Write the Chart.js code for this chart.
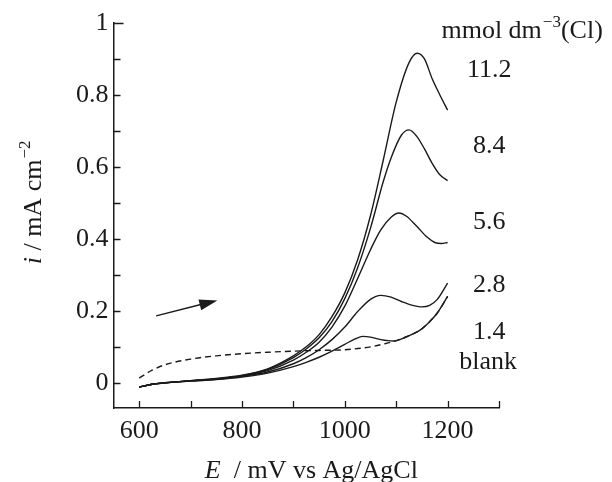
<!DOCTYPE html>
<html>
<head>
<meta charset="utf-8">
<script src="https://cdn.jsdelivr.net/npm/chart.js@4.4.1/dist/chart.umd.min.js"></script>
<style>
  html, body { margin: 0; padding: 0; background: #fff; }
  canvas { display: block; }
</style>
</head>
<body>
<canvas id="cvChart" width="612" height="482"></canvas>
<script>
// Tick values
const xTicks = [600, 700, 800, 900, 1000, 1100, 1200, 1300];
const yTicks = [0, 0.1, 0.2, 0.3, 0.4, 0.5, 0.6, 0.7, 0.8, 0.9, 1];

// Series names (Cl concentration, mmol dm-3)
const seriesNames = ['11.2', '8.4', '5.6', '2.8', '1.4', 'blank'];

// Potential (mV) and current (mA cm-2)
const e112 = [600, 625, 650, 700, 750, 800, 850, 900, 925, 950, 975, 1000, 1025, 1050, 1075, 1100, 1125, 1141, 1155, 1170, 1185, 1200];
const i112 = [-0.012, -0.004, 0.0, 0.006, 0.012, 0.021, 0.039, 0.075, 0.1, 0.134, 0.184, 0.25, 0.342, 0.465, 0.62, 0.78, 0.89, 0.916, 0.9, 0.845, 0.8, 0.758];

const e84 = [600, 625, 650, 700, 750, 800, 850, 900, 925, 950, 975, 1000, 1025, 1050, 1075, 1090, 1110, 1125, 1140, 1155, 1170, 1185, 1200];
const i84 = [-0.012, -0.004, 0.0, 0.006, 0.011, 0.02, 0.037, 0.07, 0.094, 0.125, 0.17, 0.234, 0.32, 0.43, 0.56, 0.625, 0.688, 0.703, 0.685, 0.65, 0.61, 0.578, 0.562];

const e56 = [600, 625, 650, 700, 750, 800, 850, 900, 925, 950, 975, 1000, 1025, 1050, 1070, 1090, 1105, 1120, 1140, 1160, 1175, 1188, 1200];
const i56 = [-0.012, -0.004, 0.0, 0.006, 0.011, 0.019, 0.034, 0.063, 0.085, 0.113, 0.155, 0.213, 0.29, 0.37, 0.425, 0.46, 0.472, 0.463, 0.435, 0.405, 0.39, 0.387, 0.39];

const e28 = [600, 625, 650, 700, 750, 800, 850, 900, 925, 950, 975, 1000, 1025, 1050, 1070, 1090, 1110, 1130, 1150, 1165, 1180, 1200];
const i28 = [-0.012, -0.004, 0.0, 0.005, 0.01, 0.018, 0.03, 0.053, 0.07, 0.092, 0.12, 0.155, 0.198, 0.232, 0.243, 0.238, 0.226, 0.216, 0.211, 0.215, 0.232, 0.277];

const e14 = [600, 625, 650, 700, 750, 800, 850, 900, 925, 950, 975, 1000, 1020, 1035, 1050, 1070, 1095, 1120, 1147, 1165, 1180, 1200];
const i14 = [-0.012, -0.004, 0.0, 0.005, 0.009, 0.016, 0.027, 0.045, 0.057, 0.071, 0.088, 0.107, 0.122, 0.129, 0.127, 0.12, 0.116, 0.128, 0.147, 0.17, 0.194, 0.24];

const eBlank = [600, 625, 650, 700, 750, 800, 850, 900, 950, 1000, 1050, 1076, 1095, 1120, 1147, 1165, 1180, 1200];
const iBlank = [0.013, 0.035, 0.05, 0.066, 0.075, 0.081, 0.085, 0.088, 0.09, 0.092, 0.1, 0.108, 0.115, 0.128, 0.147, 0.17, 0.194, 0.24];

const ink = '#1a1a1a';
const serif = '"Liberation Serif", "Times New Roman", serif';

function toPoints(xs, ys) {
    return xs.map((x, k) => ({ x: x, y: ys[k] }));
}

function curve(label, xs, ys, dashed) {
    return {
        label: label,
        data: toPoints(xs, ys),
        borderColor: ink,
        borderWidth: 1.4,
        borderDash: dashed ? [6, 4] : [],
        pointRadius: 0,
        fill: false,
        cubicInterpolationMode: 'monotone'
    };
}

// Draw the inward ticks, axis titles, curve labels and the sweep arrow
const decorations = {
    id: 'decorations',
    afterDraw(chart) {
        const ctx = chart.ctx;
        const sx = chart.scales.x;
        const sy = chart.scales.y;
        const area = chart.chartArea;

        ctx.save();
        ctx.strokeStyle = ink;
        ctx.fillStyle = ink;
        ctx.lineWidth = 1.3;

        // inward ticks
        ctx.beginPath();
        xTicks.forEach(v => {
            const px = Math.round(sx.getPixelForValue(v)) + 0.5;
            ctx.moveTo(px, area.bottom);
            ctx.lineTo(px, area.bottom - 7);
        });
        yTicks.forEach(v => {
            const py = Math.round(sy.getPixelForValue(v)) + 0.5;
            ctx.moveTo(area.left, py);
            ctx.lineTo(area.left + (v === 1 ? 10 : 7), py);
        });
        ctx.stroke();

        // curve labels
        ctx.font = '26px ' + serif;
        ctx.textAlign = 'center';
        ctx.textBaseline = 'middle';
        const labelAt = [[1281, 0.869], [1281, 0.658], [1281, 0.447], [1281, 0.272], [1281, 0.142], [1279, 0.058]];
        seriesNames.forEach((name, k) => {
            ctx.fillText(name, sx.getPixelForValue(labelAt[k][0]), sy.getPixelForValue(labelAt[k][1]));
        });

        // unit header: mmol dm^-3 (Cl)
        ctx.textAlign = 'left';
        ctx.textBaseline = 'alphabetic';
        let hx = sx.getPixelForValue(1188);
        const hy = sy.getPixelForValue(0.958);
        ctx.font = '26px ' + serif;
        ctx.fillText('mmol dm', hx, hy);
        hx += ctx.measureText('mmol dm').width + 1;
        ctx.font = '17px ' + serif;
        ctx.fillText('\u22123', hx, hy - 11);
        hx += ctx.measureText('\u22123').width;
        ctx.font = '26px ' + serif;
        ctx.fillText('(Cl)', hx, hy);

        // x axis title
        const xa = 'E';
        const xb = '  / mV vs Ag/AgCl';
        ctx.font = 'italic 26px ' + serif;
        const wa = ctx.measureText(xa).width;
        ctx.font = '26px ' + serif;
        const wb = ctx.measureText(xb).width;
        let tx = sx.getPixelForValue(935) - (wa + wb) / 2;
        const ty = area.bottom + 70;
        ctx.font = 'italic 26px ' + serif;
        ctx.fillText(xa, tx, ty);
        ctx.font = '26px ' + serif;
        ctx.fillText(xb, tx + wa, ty);

        // y axis title, rotated
        ctx.save();
        ctx.translate(area.left - 73, sy.getPixelForValue(0.5));
        ctx.rotate(-Math.PI / 2);
        const ya = 'i';
        const yb = ' / mA cm';
        const yc = '\u22122';
        ctx.font = 'italic 26px ' + serif;
        const w1 = ctx.measureText(ya).width;
        ctx.font = '26px ' + serif;
        const w2 = ctx.measureText(yb).width;
        ctx.font = '17px ' + serif;
        const w3 = ctx.measureText(yc).width;
        let rx = -(w1 + w2 + w3) / 2;
        ctx.font = 'italic 26px ' + serif;
        ctx.fillText(ya, rx, 0);
        rx += w1;
        ctx.font = '26px ' + serif;
        ctx.fillText(yb, rx, 0);
        rx += w2 + 1;
        ctx.font = '17px ' + serif;
        ctx.fillText(yc, rx, -11);
        ctx.restore();

        // sweep direction arrow
        const ax0 = sx.getPixelForValue(633), ay0 = sy.getPixelForValue(0.186);
        const ax1 = sx.getPixelForValue(752), ay1 = sy.getPixelForValue(0.229);
        const ang = Math.atan2(ay1 - ay0, ax1 - ax0);
        const headLen = 18, headHalf = 5.5;
        const bx = ax1 - headLen * Math.cos(ang), by = ay1 - headLen * Math.sin(ang);
        ctx.lineWidth = 1.5;
        ctx.beginPath();
        ctx.moveTo(ax0, ay0);
        ctx.lineTo(bx + 2 * Math.cos(ang), by + 2 * Math.sin(ang));
        ctx.stroke();
        ctx.beginPath();
        ctx.moveTo(ax1, ay1);
        ctx.lineTo(bx + headHalf * Math.sin(ang), by - headHalf * Math.cos(ang));
        ctx.lineTo(bx - headHalf * Math.sin(ang), by + headHalf * Math.cos(ang));
        ctx.closePath();
        ctx.fill();

        ctx.restore();
    }
};

document.addEventListener('DOMContentLoaded', function () {
    const chartCtx = document.getElementById('cvChart').getContext('2d');

    new Chart(chartCtx, {
        type: 'line',
        data: {
            datasets: [
                curve(seriesNames[0], e112, i112, false),
                curve(seriesNames[1], e84, i84, false),
                curve(seriesNames[2], e56, i56, false),
                curve(seriesNames[3], e28, i28, false),
                curve(seriesNames[4], e14, i14, false),
                curve(seriesNames[5], eBlank, iBlank, true)
            ]
        },
        options: {
            responsive: false,
            animation: false,
            layout: { padding: { top: 23, right: 113, left: 0, bottom: 0 } },
            plugins: {
                legend: { display: false },
                tooltip: { enabled: false }
            },
            scales: {
                x: {
                    type: 'linear',
                    min: 550,
                    max: 1300,
                    afterBuildTicks: scale => { scale.ticks = xTicks.map(v => ({ value: v })); },
                    afterFit: scale => { scale.height = 74; },
                    grid: { drawOnChartArea: false, drawTicks: false },
                    border: { color: ink, width: 1.5 },
                    ticks: {
                        autoSkip: false,
                        maxRotation: 0,
                        padding: 8,
                        color: ink,
                        font: { family: serif, size: 26 },
                        callback: v => (v % 200 === 0 ? String(v) : '')
                    }
                },
                y: {
                    type: 'linear',
                    min: -0.07,
                    max: 1,
                    afterBuildTicks: scale => { scale.ticks = yTicks.map(v => ({ value: v })); },
                    afterFit: scale => { scale.width = 113.5; },
                    grid: { drawOnChartArea: false, drawTicks: false },
                    border: { color: ink, width: 1.5 },
                    ticks: {
                        autoSkip: false,
                        padding: 5,
                        color: ink,
                        font: { family: serif, size: 26 },
                        callback: v => {
                            const t = Math.round(v * 10);
                            if (t % 2 !== 0) return '';
                            return t === 0 ? '0' : t === 10 ? '1' : (t / 10).toFixed(1);
                        }
                    }
                }
            }
        },
        plugins: [decorations]
    });
});
</script>
</body>
</html>
